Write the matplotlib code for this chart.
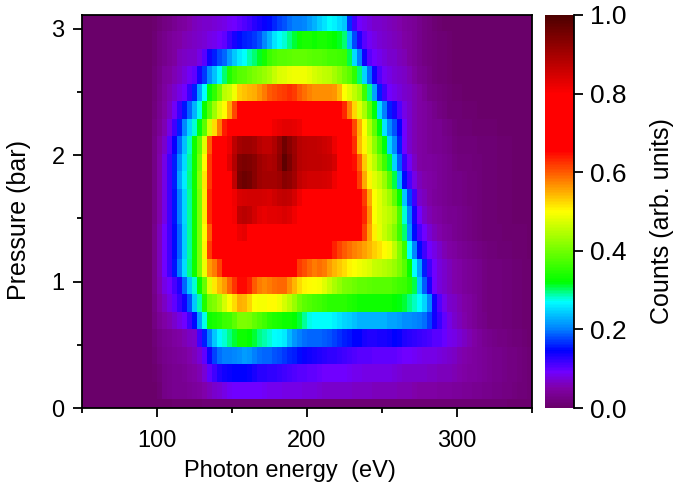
import numpy as np
import matplotlib
matplotlib.use("Agg")
import matplotlib.pyplot as plt
from matplotlib.colors import LinearSegmentedColormap
from matplotlib.ticker import MultipleLocator

plt.rcParams['font.family'] = ['Liberation Sans', 'DejaVu Sans']

# Energy grid of the typed rows: 100, 105, ... 300 eV, plus far-field points
energy_core = list(range(100, 305, 5))
energy_left = [50, 95]
energy_right = [320, 350]

pressure_step = 0.1387
tick_x = [100, 200, 300]
tick_y = [0, 1, 2, 3]
tick_cb = [0.0, 0.2, 0.4, 0.6, 0.8, 1.0]

row_00 = [0,.002,.004,.005,.006,.007,.008,.008,.009,.009,.01,.01,.01,.01,.01,.01,.01,.01,.01,.01,.01,.01,.01,.01,.01,.01,.01,.01,.01,.01,.01,.01,.01,.01,.01,.01,.01,.01,.01,.01,.01]
row_01 = [.0,.025,.03,.035,.035,.04,.05,.06,.07,.08,.09,.09,.09,.09,.09,.085,.085,.08,.08,.08,.075,.075,.07,.07,.07,.07,.065,.065,.065,.06,.06,.06,.06,.055,.055,.05,.05,.05,.045,.045,.04]
row_02 = [.01,.025,.03,.035,.04,.05,.06,.1,.125,.14,.145,.145,.145,.135,.125,.125,.12,.115,.11,.105,.1,.1,.095,.09,.09,.09,.085,.085,.08,.08,.08,.08,.075,.07,.07,.07,.065,.065,.06,.06,.055]
row_03 = [.015,.03,.035,.04,.05,.06,.08,.14,.19,.2,.2,.21,.22,.2,.19,.19,.18,.17,.16,.15,.14,.135,.13,.125,.12,.115,.11,.105,.105,.1,.1,.1,.1,.09,.09,.085,.08,.08,.075,.07,.06]
row_04 = [.02,.035,.04,.05,.06,.07,.14,.2,.26,.28,.3,.33,.33,.31,.29,.28,.27,.26,.22,.2,.19,.19,.19,.18,.17,.16,.15,.145,.13,.13,.135,.14,.15,.13,.125,.12,.115,.105,.1,.085,.075]
row_05 = [.03,.05,.06,.08,.1,.15,.25,.33,.34,.36,.37,.41,.41,.39,.37,.35,.34,.33,.33,.31,.28,.27,.27,.27,.26,.25,.24,.23,.23,.23,.23,.22,.22,.21,.21,.2,.19,.14,.11,.08,.065]
row_06 = [.04,.065,.09,.12,.15,.24,.31,.4,.42,.47,.51,.55,.54,.5,.49,.5,.5,.47,.44,.4,.38,.37,.36,.35,.35,.35,.34,.33,.33,.33,.33,.33,.32,.31,.29,.27,.24,.14,.09,.07,.06]
row_07 = [.045,.08,.1,.13,.22,.28,.35,.48,.53,.56,.61,.65,.65,.6,.57,.58,.59,.59,.56,.52,.5,.5,.49,.46,.43,.41,.4,.39,.39,.38,.38,.38,.37,.36,.34,.24,.16,.09,.07,.06,.05]
row_08 = [.045,.09,.13,.2,.28,.33,.45,.56,.59,.66,.68,.68,.68,.68,.68,.68,.68,.68,.67,.62,.6,.58,.59,.56,.54,.52,.5,.49,.48,.46,.45,.44,.42,.38,.3,.22,.13,.09,.07,.06,.05]
row_09 = [.045,.09,.13,.19,.27,.33,.45,.62,.67,.68,.7,.75,.76,.73,.7,.7,.7,.7,.7,.7,.65,.68,.68,.66,.62,.6,.58,.57,.55,.53,.51,.49,.44,.36,.23,.15,.1,.08,.06,.05,.04]
row_10 = [.045,.09,.13,.19,.27,.33,.45,.6,.68,.69,.7,.82,.83,.72,.7,.7,.72,.72,.7,.7,.7,.7,.7,.7,.7,.7,.7,.68,.58,.51,.47,.44,.4,.3,.17,.11,.08,.06,.05,.04,.03]
row_11 = [.04,.08,.13,.2,.27,.33,.45,.63,.68,.7,.78,.87,.88,.85,.82,.83,.83,.84,.83,.78,.72,.7,.7,.7,.7,.7,.7,.69,.6,.5,.47,.45,.42,.28,.16,.09,.06,.05,.04,.035,.03]
row_12 = [.04,.08,.13,.2,.27,.33,.45,.63,.68,.7,.8,.84,.85,.85,.85,.84,.86,.87,.86,.82,.74,.73,.74,.73,.72,.71,.7,.7,.58,.5,.47,.43,.37,.24,.14,.07,.055,.04,.035,.03,.025]
row_13 = [.04,.08,.13,.22,.28,.33,.46,.62,.7,.72,.83,.95,.97,.93,.9,.9,.9,.93,.92,.87,.85,.85,.85,.84,.8,.71,.69,.62,.52,.48,.45,.38,.27,.15,.09,.06,.05,.045,.035,.03,.025]
row_14 = [.04,.08,.13,.21,.27,.33,.44,.62,.69,.78,.86,.94,.95,.93,.9,.89,.9,.98,.93,.88,.87,.87,.87,.86,.84,.72,.67,.6,.5,.45,.39,.31,.22,.12,.07,.05,.045,.04,.035,.03,.02]
row_15 = [.04,.07,.12,.19,.26,.33,.42,.6,.69,.73,.86,.9,.91,.9,.87,.87,.9,.96,.92,.88,.87,.87,.86,.85,.8,.69,.67,.54,.49,.42,.35,.25,.19,.09,.06,.05,.04,.035,.03,.025,.015]
row_16 = [.03,.055,.09,.16,.23,.28,.34,.47,.55,.64,.67,.69,.7,.72,.74,.8,.82,.83,.83,.82,.78,.75,.74,.72,.7,.69,.64,.55,.47,.39,.28,.21,.17,.09,.06,.05,.04,.035,.03,.02,.01]
row_17 = [.025,.05,.07,.12,.17,.23,.3,.38,.46,.5,.58,.67,.68,.69,.69,.69,.69,.7,.7,.7,.7,.7,.7,.69,.68,.63,.55,.48,.42,.32,.22,.16,.12,.08,.06,.05,.04,.03,.02,.01,.01]
row_18 = [.02,.045,.06,.08,.1,.16,.25,.32,.37,.45,.47,.53,.54,.55,.57,.6,.61,.62,.63,.6,.58,.57,.57,.57,.56,.5,.47,.43,.33,.22,.13,.09,.08,.07,.06,.05,.03,.02,.015,.01,.005]
row_19 = [.02,.04,.05,.065,.08,.1,.15,.21,.25,.3,.36,.38,.39,.41,.42,.44,.47,.48,.49,.49,.49,.47,.46,.45,.43,.4,.38,.3,.22,.14,.09,.08,.07,.065,.05,.035,.025,.015,.01,.005,0]
row_20 = [.015,.03,.04,.06,.065,.07,.085,.14,.17,.19,.23,.26,.28,.3,.32,.36,.38,.38,.39,.39,.39,.38,.38,.37,.37,.36,.28,.2,.11,.09,.08,.07,.065,.055,.04,.03,.02,.015,.01,.005,0]
row_21 = [.015,.03,.04,.05,.06,.065,.07,.08,.085,.1,.13,.15,.16,.17,.19,.23,.27,.28,.3,.33,.34,.33,.34,.33,.32,.3,.2,.13,.09,.08,.07,.065,.06,.05,.04,.03,.02,.015,.01,.005,0]
row_22 = [.01,.02,.03,.04,.05,.06,.065,.07,.075,.08,.09,.1,.11,.125,.14,.15,.17,.18,.2,.2,.21,.23,.25,.27,.26,.24,.13,.09,.08,.07,.065,.06,.055,.045,.04,.03,.02,.01,.005,0,0]

rows = [row_00, row_01, row_02, row_03, row_04, row_05, row_06, row_07, row_08, row_09,
        row_10, row_11, row_12, row_13, row_14, row_15, row_16, row_17, row_18, row_19,
        row_20, row_21, row_22]

far_320 = [.01, .03, .035, .035, .03, .02, .02, .02, .02, .015, .01, .01, .01, .01, .01, .01, .005, 0, 0, 0, 0, 0, 0]
far_350 = [.005, .01, .01, .01, .005, .005, .005, .005, .005, .003, .003, 0, 0, 0, 0, 0, 0, 0, 0, 0, 0, 0, 0]

cmap = LinearSegmentedColormap.from_list("counts", [
    (0.0, "#6a006a"), (0.05, "#8000a8"), (0.09, "#7000ff"), (0.145, "#0000ff"),
    (0.2, "#0080ff"), (0.27, "#00ffff"), (0.32, "#00ff00"), (0.5, "#ffff00"),
    (0.655, "#ff0000"), (0.8, "#ff0000"), (1.0, "#4d0000")])

energy_nodes = energy_left + energy_core + energy_right
fine_edges = np.arange(50, 350.01, 10 / 3)
fine_centres = 0.5 * (fine_edges[:-1] + fine_edges[1:])
grid = np.array([np.interp(fine_centres, energy_nodes,
                           [0, 0] + list(r) + [a, b])
                 for r, a, b in zip(rows, far_320, far_350)])
pressure_edges = (np.arange(len(rows) + 1) - 0.5) * pressure_step

W, H = 675, 490
fig = plt.figure(figsize=(W / 100, H / 100), dpi=100)
ax = fig.add_axes([82 / W, 1 - 408 / H, 450 / W, 393 / H])
mesh = ax.pcolormesh(fine_edges, pressure_edges, grid, cmap=cmap, vmin=0, vmax=1,
                     shading="flat", rasterized=True)
ax.set_xlim(50, 350)
ax.set_ylim(0, 393 / 126.4)
ax.set_xticks(tick_x)
ax.set_yticks(tick_y)
ax.xaxis.set_minor_locator(MultipleLocator(50))
ax.yaxis.set_minor_locator(MultipleLocator(0.5))
ax.tick_params(which="major", length=6.5, width=1.3, labelsize=17, pad=6)
ax.tick_params(axis="x", which="major", pad=9)
ax.tick_params(which="minor", length=3.5, width=1.3)
for s in ax.spines.values():
    s.set_linewidth(1.3)
ax.set_xlabel("Photon energy  (eV)", fontsize=17)
ax.xaxis.set_label_coords(0.462, -0.132)
ax.set_ylabel("Pressure (bar)", fontsize=18)
ax.yaxis.set_label_coords(-0.113, 0.478)

cax = fig.add_axes([545 / W, 1 - 408 / H, 29 / W, 393 / H])
cb = fig.colorbar(mesh, cax=cax)
cb.set_ticks(tick_cb)
cb.ax.tick_params(length=6.5, width=1.3, labelsize=19, pad=5)
cb.outline.set_visible(False)
cax.spines["right"].set_visible(True)
cax.spines["right"].set_linewidth(1.3)
cb.set_label("Counts (arb. units)", fontsize=18)
cax.yaxis.set_label_coords(3.62, 0.476)

fig.savefig("out.png", dpi=100)
